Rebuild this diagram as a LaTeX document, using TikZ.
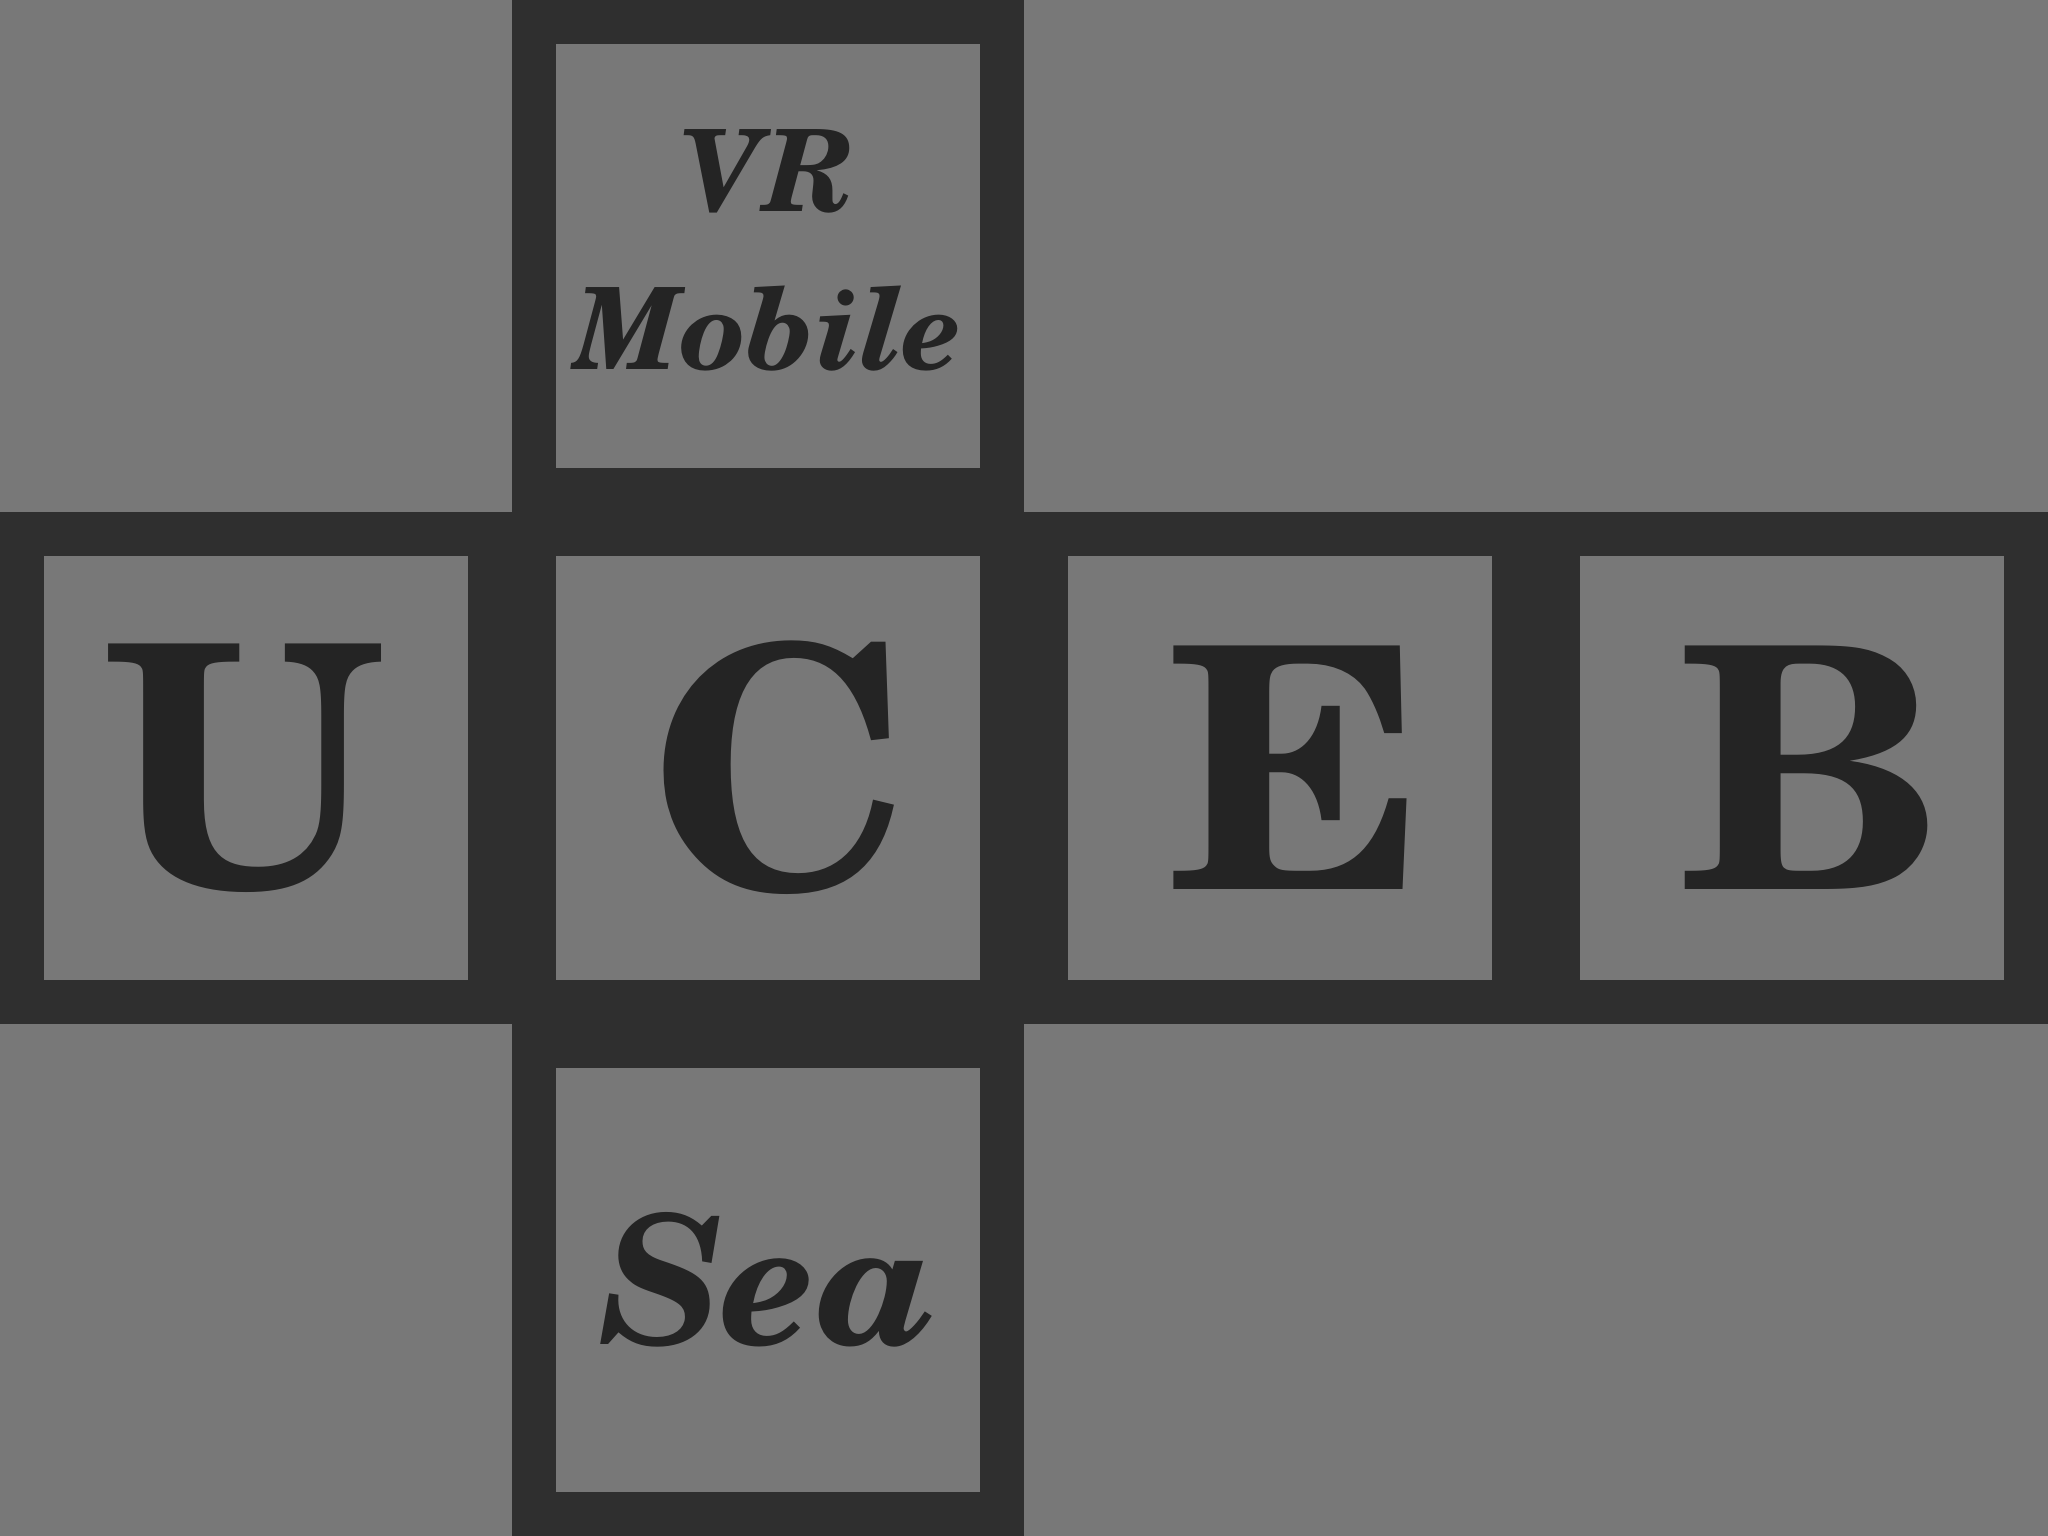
\documentclass[tikz,border=0pt]{standalone}
\usepackage{fontspec}
\setmainfont{texgyreschola}[Extension=.otf, UprightFont=*-regular, BoldFont=*-bold, ItalicFont=*-italic, BoldItalicFont=*-bolditalic]
\usepackage{tikz}
\usetikzlibrary{positioning}
\definecolor{bgray}{HTML}{787878}
\definecolor{frame}{HTML}{2F2F2F}
\definecolor{ink}{HTML}{242424}

\begin{document}
\begin{tikzpicture}[
  node distance=4.4mm,
  face/.style={draw=frame, line width=4.4mm, fill=bgray, minimum size=46.8mm, inner sep=0pt, outer sep=0pt, text=ink, align=center},
  big/.style={face, font=\fontsize{96}{110}\selectfont\bfseries},
  word/.style={face, font=\fontsize{51}{60}\selectfont\bfseries\itshape}
]
\useasboundingbox (0,0) rectangle (20.48,15.36);
\fill[bgray] (0,0) rectangle (20.48,15.36);
% middle row of the net
\node[big] (c) at (7.68,7.68) {C\kern-2.7mm};
\node[big, left=of c] (u) {\kern-2.4mm U};
\node[big, right=of c] (e) {E\kern-3.3mm};
\node[big, right=of e] (b) {B\kern-3.7mm};
% top and bottom faces
\node[word, above=of c, text depth=1.3mm, font=\fontsize{32.3}{45}\selectfont\bfseries\itshape] (vr) {VR\\Mobile};
\node[word, below=of c] (sea) {Sea};
\end{tikzpicture}
\end{document}
